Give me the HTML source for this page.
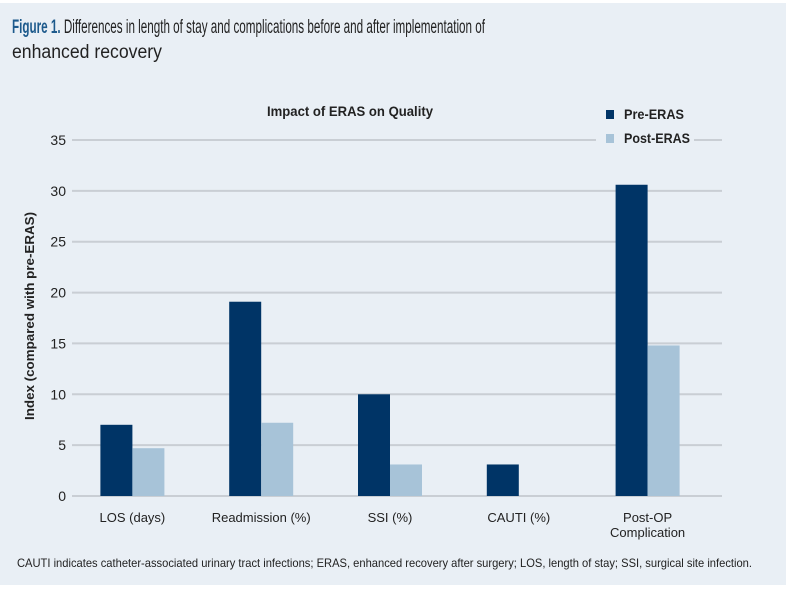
<!DOCTYPE html>
<html><head><meta charset="utf-8"><style>
html,body{margin:0;padding:0;background:#fff;}
svg{display:block;font-family:"Liberation Sans",sans-serif;}
</style></head><body>
<svg id="chart" width="790" height="592" viewBox="0 0 790 592">
<rect x="0" y="3" width="786" height="582" fill="#e9eff5"/>
<text x="12" y="33" font-size="19" fill="#222" textLength="473" lengthAdjust="spacingAndGlyphs"><tspan font-weight="bold" fill="#1d5a8c">Figure 1.</tspan> Differences in length of stay and complications before and after implementation of</text>
<text x="12" y="58" font-size="19" fill="#222" textLength="150" lengthAdjust="spacingAndGlyphs">enhanced recovery</text>
<text x="350" y="116" font-size="14" font-weight="bold" fill="#222" text-anchor="middle" textLength="166" lengthAdjust="spacingAndGlyphs">Impact of ERAS on Quality</text>
<g>
<rect x="606" y="110" width="8" height="9" fill="#003466"/>
<text x="624" y="119" font-size="14" font-weight="bold" fill="#222" textLength="60" lengthAdjust="spacingAndGlyphs">Pre-ERAS</text>
<rect x="606" y="134" width="8" height="9" fill="#a7c3d8"/>
<text x="624" y="143" font-size="14" font-weight="bold" fill="#222" textLength="66" lengthAdjust="spacingAndGlyphs">Post-ERAS</text>
</g>
<text transform="translate(34,316) rotate(-90)" font-size="13" font-weight="bold" fill="#222" text-anchor="middle" textLength="208" lengthAdjust="spacingAndGlyphs">Index (compared with pre-ERAS)</text>
<g id="grid"></g><g id="bars"></g><g id="xlabels"></g>
<text x="17" y="567" font-size="12" fill="#222" textLength="735" lengthAdjust="spacingAndGlyphs">CAUTI indicates catheter-associated urinary tract infections; ERAS, enhanced recovery after surgery; LOS, length of stay; SSI, surgical site infection.</text>
</svg>
<script>
const categories = [["LOS (days)"],["Readmission (%)"],["SSI (%)"],["CAUTI (%)"],["Post-OP","Complication"]];
const preValues = [7.0, 19.1, 10.0, 3.1, 30.6];
const postValues = [4.7, 7.2, 3.1, 0, 14.8];
const yTicks = [0,5,10,15,20,25,30,35];
const NS="http://www.w3.org/2000/svg";
const y0=496, y35=140, xL=72, xR=722, x0=68, step=128.8, bw=32;
function yScale(v){return y0-(y0-y35)*v/35;}
function xCenter(i){return x0+step*(i+0.5);}
function mk(tag,attrs){const e=document.createElementNS(NS,tag);for(const k in attrs)e.setAttribute(k,attrs[k]);return e;}
const grid=document.getElementById('grid');
yTicks.forEach(t=>{
  const y=yScale(t);
  const x2 = t===35 ? 596 : xR;
  const l=mk('line',{x1:xL,x2:x2,y1:y,y2:y,stroke:'#c9ced4','stroke-width':2});
  
  
  grid.appendChild(l);
  if(t===35){const l2=mk('line',{x1:694,x2:xR,y1:y,y2:y,stroke:'#c9ced4','stroke-width':2});
    
    
    grid.appendChild(l2);}
  const tx=mk('text',{x:66,y:y+5,'font-size':14,fill:'#222','text-anchor':'end'});
  tx.textContent=t;
  
  
  grid.appendChild(tx);
});
const bars=document.getElementById('bars'), xl=document.getElementById('xlabels');
categories.forEach((c,i)=>{
  const cx=xCenter(i);
  const p=mk('rect',{x:cx-bw,y:yScale(preValues[i]),width:bw,height:y0-yScale(preValues[i]),fill:'#003466'});
  
  
  bars.appendChild(p);
  const q=mk('rect',{x:cx,y:yScale(postValues[i]),width:bw,height:y0-yScale(postValues[i]),fill:'#a7c3d8'});
  
  
  bars.appendChild(q);
  c.forEach((line,j)=>{
    const t=mk('text',{x:cx,y:522+j*15,'font-size':13,fill:'#222','text-anchor':'middle'});
    t.textContent=line;
    
    
    xl.appendChild(t);
  });
});
</script>
</body></html>
